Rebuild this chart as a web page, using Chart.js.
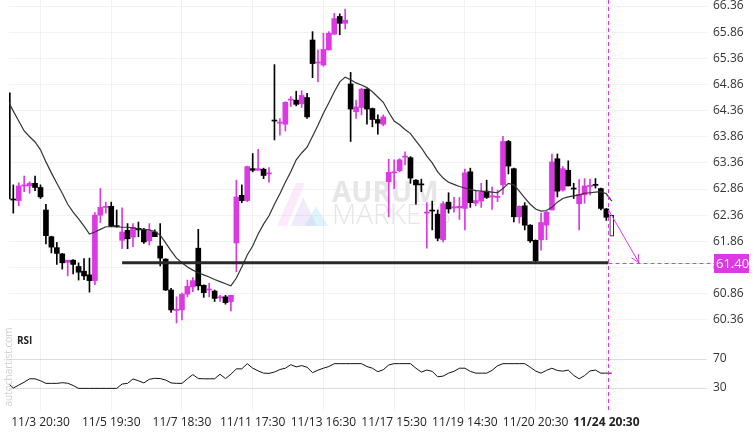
<!DOCTYPE html>
<html>
<head>
<meta charset="utf-8">
<script src="https://cdn.jsdelivr.net/npm/chart.js@4.4.1/dist/chart.umd.min.js"></script>
<style>
  html, body { margin: 0; padding: 0; background: #fff; }
  #wrap { width: 756px; height: 432px; }
</style>
</head>
<body>
<div id="wrap"><canvas id="chart" width="756" height="432"></canvas></div>
<script>
// candles (index = bar number)
var opens = [64.70,62.67,62.64,62.92,62.92,62.97,62.89,62.46,61.95,61.74,
  61.62,61.46,61.50,61.38,61.29,61.22,61.11,62.36,62.51,62.53,
  62.16,61.88,62.07,61.94,62.11,62.08,61.87,62.04,61.77,61.52,
  60.93,60.54,60.55,60.85,60.99,61.73,61.02,60.93,60.91,60.78,
  60.80,60.71,61.83,62.74,62.64,63.25,63.22,63.24,63.15,64.18,
  64.12,64.10,64.56,64.56,64.49,64.61,65.71,65.27,65.23,65.52,
  65.82,66.16,66.03,64.87,64.34,64.42,64.77,64.40,64.19,64.10,
  63.00,63.17,63.21,63.47,63.46,63.03,62.95,62.40,62.45,62.38,
  61.89,62.61,62.50,62.50,62.49,63.19,62.59,62.63,62.82,62.71,
  62.70,62.94,63.77,63.25,62.33,62.54,62.17,61.88,61.89,62.17,
  62.46,63.44,62.84,63.22,62.87,62.58,62.75,62.91,62.95,62.87,
  62.48];
var highs = [64.75,62.94,62.98,63.11,63.00,63.11,62.94,62.57,61.96,61.84,
  61.63,61.50,61.51,61.45,61.53,61.54,62.41,62.87,62.61,62.61,
  62.46,62.50,62.20,62.20,62.23,62.11,62.20,62.08,62.20,61.53,
  60.96,60.80,60.87,61.12,61.17,62.09,61.03,61.06,60.93,60.83,
  60.83,60.83,63.03,62.94,63.30,63.54,63.62,63.26,63.27,65.24,
  64.21,64.53,64.63,64.73,64.74,64.69,65.87,65.52,65.84,65.87,
  66.22,66.21,66.30,65.09,64.56,64.79,64.78,64.41,64.28,64.28,
  63.43,63.42,63.44,63.57,63.48,63.04,63.05,62.60,62.63,62.46,
  62.62,62.79,62.70,62.70,63.24,63.26,62.84,62.97,63.03,62.90,
  62.84,63.87,63.79,63.26,62.54,62.60,62.18,61.89,62.40,62.43,
  63.53,63.53,63.29,63.40,62.97,63.04,63.06,63.05,63.06,62.88,
  62.49];
var lows = [62.62,62.40,62.54,62.81,62.78,62.83,62.68,61.81,61.64,61.42,
  61.33,61.20,61.24,61.12,61.13,60.89,61.03,62.22,62.40,62.14,
  62.13,61.72,61.72,61.76,61.95,61.82,61.79,61.95,61.39,60.92,
  60.50,60.30,60.36,60.80,60.90,60.93,60.79,60.80,60.71,60.71,
  60.66,60.53,61.28,62.60,62.62,63.19,63.22,63.06,62.99,63.80,
  63.89,63.97,64.44,64.45,64.42,64.21,64.99,64.91,65.21,65.52,
  65.82,65.81,65.92,63.77,64.21,64.28,64.10,64.05,63.91,64.07,
  62.33,62.87,63.19,63.32,62.97,62.57,62.81,61.73,62.08,61.87,
  61.85,62.40,62.42,62.28,62.08,62.51,62.54,62.51,62.68,62.47,
  62.62,62.76,63.15,62.23,62.21,62.08,61.84,61.44,61.69,61.89,
  62.46,62.71,62.82,62.92,62.68,62.08,62.59,62.75,62.88,62.46,
  62.26];
var closes = [62.67,62.65,62.92,62.93,62.97,62.89,62.71,61.97,61.75,61.63,
  61.45,61.50,61.42,61.27,61.20,61.11,62.36,62.51,62.53,62.15,
  62.14,62.04,61.91,62.13,62.08,61.85,62.06,61.95,61.54,60.93,
  60.55,60.56,60.85,61.00,61.11,61.01,60.88,60.95,60.77,60.80,
  60.69,60.83,62.71,62.64,63.29,63.22,63.25,63.12,63.17,64.16,
  64.14,64.52,64.58,64.48,64.65,64.24,65.26,65.29,65.53,65.84,
  66.12,66.03,66.09,64.39,64.43,64.77,64.39,64.19,64.12,64.24,
  63.18,63.19,63.42,63.49,63.07,62.94,62.94,62.42,62.44,61.92,
  62.58,62.48,62.52,62.53,63.17,62.60,62.64,62.80,62.70,62.73,
  62.72,63.77,63.30,62.33,62.53,62.17,61.87,61.49,62.22,62.42,
  63.38,62.82,63.25,62.92,62.86,62.76,62.92,62.93,62.93,62.49,
  62.32];

// moving average (one value per bar, last one on the forecast bar)
var maValues = [64.55,64.35,64.16,63.97,63.86,63.76,63.61,63.38,63.17,62.97,
  62.78,62.57,62.42,62.29,62.15,62.00,62.04,62.09,62.14,62.14,
  62.14,62.13,62.13,62.12,62.10,62.09,62.08,62.05,61.98,61.83,
  61.68,61.54,61.45,61.37,61.31,61.26,61.22,61.18,61.13,61.09,
  61.05,61.01,61.16,61.37,61.60,61.77,62.00,62.19,62.35,62.57,
  62.77,62.99,63.19,63.42,63.55,63.66,63.87,64.08,64.31,64.51,
  64.72,64.91,65.00,64.95,64.89,64.85,64.80,64.72,64.62,64.52,
  64.33,64.16,64.09,64.00,63.92,63.78,63.65,63.49,63.36,63.19,
  63.07,62.99,62.95,62.91,62.88,62.85,62.83,62.82,62.81,62.80,
  62.79,62.87,62.97,62.94,62.82,62.69,62.57,62.48,62.44,62.45,
  62.51,62.61,62.68,62.71,62.73,62.75,62.78,62.79,62.80,62.81,
  62.77,62.63];

var rsiValues = [37,30,34,38,42.7,42.7,40,36.4,36.4,36.4,
  37.3,36.6,33.5,29.5,29.5,29.5,29.5,29.5,29.5,29.5,
  29.5,35.5,36.4,42.5,40,37,42,43.4,43,41,
  37,36.4,36.4,42.7,48.5,43,42.7,42.7,42.7,49,
  43,49,56.4,56.4,63.6,57.4,53.6,50.5,50.2,52,
  55.5,57.3,62.2,59.1,60.9,58.6,51.2,54.6,57.3,59.6,
  63.6,63.6,63.6,63.6,63.6,63.6,59.6,57.3,52.5,55.2,
  61.7,63.6,63.6,63.6,63.6,57.3,52,54.8,52.9,45.5,
  46.4,50.5,53,57.3,57.3,52.9,50.5,50.5,50.5,54.3,
  60.6,63.6,63.6,63.6,63.6,63.6,58.7,53.4,50.5,54.3,
  57.3,54.1,53.3,54.7,47.5,42.7,47.1,53.6,54.7,50.5,
  50.5,50.5];

var xLabels = ['11/3 20:30','11/5 19:30','11/7 18:30','11/11 17:30','11/13 16:30',
  '11/17 15:30','11/19 14:30','11/20 20:30','11/24 20:30'];
var xLabelIdx = [6,19,32,45,58,71,84,97,110];
var priceTicks = [60.36,60.86,61.36,61.86,62.36,62.86,63.36,63.86,64.36,64.86,65.36,65.86,66.36];
var rsiTicks = [30,70];

var targetLevel = 61.45;      // where the support line sits on the price scale
var targetText = '61.40';
var lineStartIdx = 21;
var nowIdx = 110.35;
var forecastIdx = 111;
var forecastRange = [61.96, 62.36];
var arrowFrom = [110.5, 62.44];
var arrowTo = [116.0, targetLevel];

var MAG = '#dc38e4';

var bodies = [], wicks = [], colors = [];
for (var i = 0; i < opens.length; i++) {
  bodies.push({x: i, y: [opens[i], closes[i]]});
  wicks.push({x: i, y: [lows[i], highs[i]]});
  colors.push(closes[i] > opens[i] ? MAG : '#000');
}

function noPad(s) {
  s.paddingLeft = 0; s.paddingRight = 0; s.paddingTop = 0; s.paddingBottom = 0;
}

var overlay = {
  id: 'overlay',
  beforeDatasetsDraw: function(chart) {
    var ctx = chart.ctx;
    ctx.save();
    // watermark logo
    ctx.fillStyle = 'rgba(235,160,235,0.22)';
    ctx.beginPath();
    ctx.moveTo(277, 226); ctx.lineTo(296, 183); ctx.lineTo(305, 183); ctx.lineTo(287, 226);
    ctx.closePath(); ctx.fill();
    ctx.fillStyle = 'rgba(200,170,240,0.25)';
    ctx.beginPath();
    ctx.moveTo(291, 226); ctx.lineTo(303, 197); ctx.lineTo(317, 226);
    ctx.closePath(); ctx.fill();
    ctx.fillStyle = 'rgba(150,215,245,0.3)';
    ctx.beginPath();
    ctx.moveTo(305, 226); ctx.lineTo(316, 206); ctx.lineTo(328, 226);
    ctx.closePath(); ctx.fill();
    ctx.fillStyle = '#e6e6e6';
    ctx.textBaseline = 'alphabetic';
    ctx.textAlign = 'left';
    ctx.font = 'bold 28px "Open Sans"';
    ctx.fillText('AURUM', 332, 202);
    ctx.font = '300 28px "Open Sans"';
    ctx.fillText('MARKETS', 332, 224);
    ctx.restore();
  },
  afterDraw: function(chart) {
    var ctx = chart.ctx, area = chart.chartArea;
    var xs = chart.scales.x, ys = chart.scales.y;
    var xNow = Math.round(xs.getPixelForValue(nowIdx)) + 0.5;
    var yT = Math.round(ys.getPixelForValue(targetLevel)) + 0.5;
    ctx.save();
    ctx.strokeStyle = MAG;
    ctx.lineWidth = 1;
    ctx.setLineDash([4, 3]);
    ctx.beginPath();
    ctx.moveTo(xNow, area.top); ctx.lineTo(xNow, area.bottom);
    ctx.moveTo(xNow, yT); ctx.lineTo(area.right + 7, yT);
    ctx.stroke();
    ctx.setLineDash([]);
    // arrow
    var ax0 = xs.getPixelForValue(arrowFrom[0]), ay0 = ys.getPixelForValue(arrowFrom[1]);
    var ax1 = xs.getPixelForValue(arrowTo[0]), ay1 = ys.getPixelForValue(arrowTo[1]);
    var ang = Math.atan2(ay1 - ay0, ax1 - ax0);
    ctx.beginPath();
    ctx.moveTo(ax0, ay0); ctx.lineTo(ax1, ay1);
    ctx.moveTo(ax1 - 9 * Math.cos(ang - 0.45), ay1 - 9 * Math.sin(ang - 0.45));
    ctx.lineTo(ax1, ay1);
    ctx.lineTo(ax1 - 9 * Math.cos(ang + 0.45), ay1 - 9 * Math.sin(ang + 0.45));
    ctx.stroke();
    // level label
    ctx.fillStyle = MAG;
    ctx.fillRect(area.right + 7, yT - 9.5, 35, 19);
    ctx.fillStyle = '#fff';
    ctx.font = '13px "Open Sans"';
    ctx.textAlign = 'left';
    ctx.textBaseline = 'middle';
    ctx.fillText(targetText, area.right + 9, yT + 0.5);
    // RSI caption
    ctx.fillStyle = '#222';
    ctx.font = 'bold 10px "Open Sans"';
    ctx.fillText('RSI', area.left + 8, 341);
    // side credit
    ctx.translate(9, 367);
    ctx.rotate(-Math.PI / 2);
    ctx.fillStyle = '#cfcfcf';
    ctx.font = '10px "Open Sans"';
    ctx.textAlign = 'center';
    ctx.fillText('autochartist.com', 0, 0);
    ctx.restore();
  }
};

var ctr = document.getElementById('chart');
var chart = new Chart(ctr, {
  type: 'bar',
  data: {
    datasets: [
      {
        type: 'line', data: [{x: lineStartIdx, y: targetLevel}, {x: nowIdx, y: targetLevel}],
        borderColor: '#2a2a2a', borderWidth: 3, pointRadius: 0, yAxisID: 'y', order: 0
      },
      {
        type: 'line', data: maValues.map(function(v, i) { return {x: i, y: v}; }),
        borderColor: '#333', borderWidth: 1.2, pointRadius: 0, tension: 0, yAxisID: 'y', order: 1
      },
      {
        type: 'line', data: rsiValues.map(function(v, i) { return {x: i, y: v}; }),
        borderColor: '#111', borderWidth: 1, pointRadius: 0, tension: 0, yAxisID: 'rsi', order: 1
      },
      {
        data: [{x: forecastIdx, y: forecastRange}], backgroundColor: '#fff', borderColor: '#111',
        borderWidth: 1, borderSkipped: false, barThickness: 4, grouped: false, yAxisID: 'y', order: 2
      },
      {
        data: bodies, backgroundColor: colors, barThickness: 5, minBarLength: 1,
        grouped: false, yAxisID: 'y', order: 3
      },
      {
        data: wicks, backgroundColor: colors, barThickness: 1,
        grouped: false, yAxisID: 'y', order: 4
      }
    ]
  },
  options: {
    responsive: false,
    animation: false,
    layout: { padding: { left: 9, right: 0, top: 0, bottom: 0 } },
    plugins: { legend: { display: false }, tooltip: { enabled: false } },
    scales: {
      x: {
        type: 'linear', min: 0.21, max: 128.5, offset: false,
        border: { display: false },
        grid: { color: '#f0f0f0', drawTicks: false, offset: false },
        afterBuildTicks: function(s) { s.ticks = xLabelIdx.map(function(v) { return {value: v}; }); },
        afterFit: function(s) { s.height = 21; noPad(s); },
        ticks: {
          autoSkip: false, maxRotation: 0, padding: 4, color: '#222',
          font: function(c) {
            return {family: 'Open Sans', size: 12, weight: c.index === xLabels.length - 1 ? 'bold' : 'normal'};
          },
          callback: function(v) { var k = xLabelIdx.indexOf(v); return k < 0 ? '' : xLabels[k]; }
        }
      },
      y: {
        position: 'right', stack: 'panes', stackWeight: 335,
        min: 60.07, max: 66.475,
        border: { display: false },
        grid: { color: '#f2f2f2', drawTicks: false },
        afterBuildTicks: function(s) { s.ticks = priceTicks.map(function(v) { return {value: v}; }); },
        afterFit: function(s) { s.width = 49; noPad(s); },
        ticks: { autoSkip: false, padding: 6, color: '#333', font: {family: 'Open Sans', size: 12},
          callback: function(v) { return v.toFixed(2); } }
      },
      rsi: {
        position: 'right', stack: 'panes', stackWeight: 76,
        min: -1.7, max: 103.1,
        border: { display: false },
        grid: { color: '#dcdcdc', drawTicks: false },
        afterBuildTicks: function(s) { s.ticks = rsiTicks.map(function(v) { return {value: v}; }); },
        afterFit: function(s) { s.width = 49; noPad(s); },
        ticks: { autoSkip: false, padding: 6, color: '#333', font: {family: 'Open Sans', size: 12} }
      }
    }
  },
  plugins: [overlay]
});
</script>
</body>
</html>
